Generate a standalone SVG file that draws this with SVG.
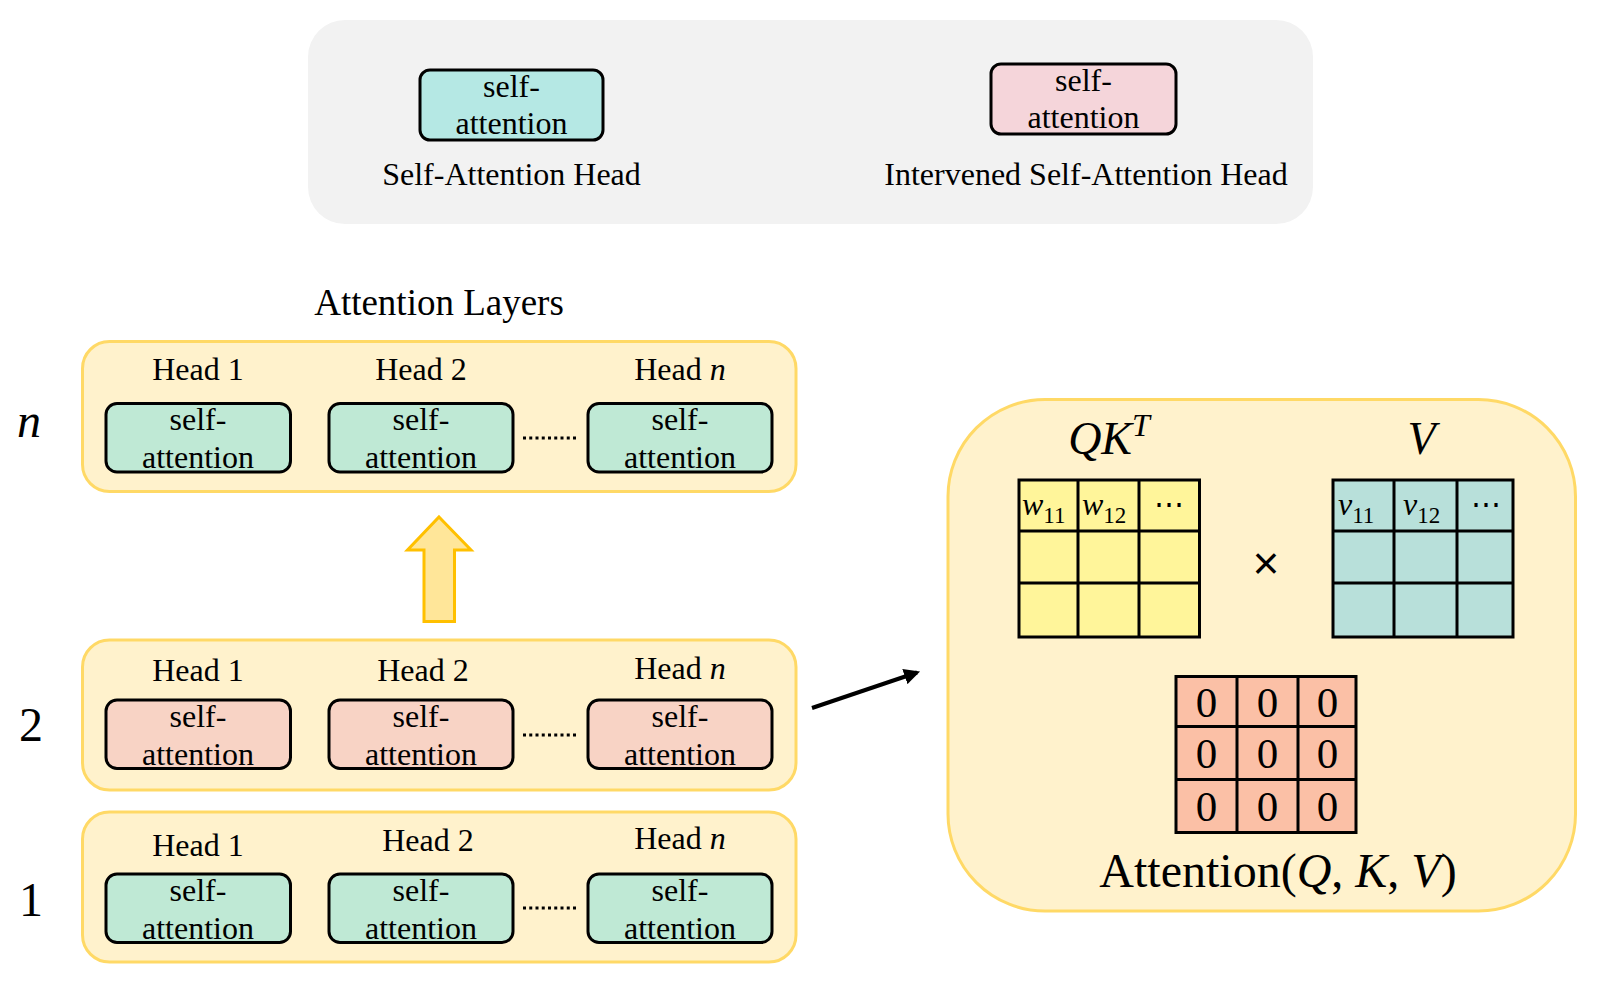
<svg xmlns="http://www.w3.org/2000/svg" width="1598" height="988" viewBox="0 0 1598 988">
<defs>
<style>
.t{font-family:"Liberation Serif","Times New Roman",serif;fill:#000}
.m{font-family:"Liberation Serif","DejaVu Serif",serif;font-style:italic;fill:#000}
.layer{fill:#fff2cc;stroke:#ffd966;stroke-width:3}
.head{stroke:#000;stroke-width:3}
.g{fill:#bfe9d5}
.p{fill:#f8d3c5}
.hl{font-size:32px;text-anchor:middle}
.st{font-size:32px;text-anchor:middle}
.cell{stroke:#000;stroke-width:3}
.dots{stroke:#000;stroke-width:3.2;stroke-dasharray:3 3.25}
</style>
<marker id="ah" viewBox="0 0 10 10" refX="8" refY="5" markerWidth="4" markerHeight="4" orient="auto"><path d="M0,0 L10,5 L0,10 Z" fill="#000"/></marker>
</defs>
<rect width="1598" height="988" fill="#fff"/>

<g id="legend">
<rect x="308" y="20" width="1005" height="204" rx="37" fill="#f2f2f2"/>
<rect x="420" y="70" width="183" height="70" rx="10" fill="#b5e8e4" class="head"/>
<text class="t st" x="511.5" y="97">self-</text>
<text class="t st" x="511.5" y="134">attention</text>
<text class="t" x="511.5" y="185" font-size="32" text-anchor="middle">Self-Attention Head</text>
<rect x="991" y="64" width="185" height="70" rx="10" fill="#f5d5da" class="head"/>
<text class="t st" x="1083.5" y="91">self-</text>
<text class="t st" x="1083.5" y="128">attention</text>
<text class="t" x="1086" y="185" font-size="32" text-anchor="middle">Intervened Self-Attention Head</text>
</g>

<text id="title" class="t" x="439" y="315" font-size="37" text-anchor="middle">Attention Layers</text>

<g id="layer-n">
<rect class="layer" x="82.5" y="341.5" width="713.5" height="150" rx="27"/>
<text class="m" x="17" y="437" font-size="48">n</text>
<text class="t hl" x="198" y="380">Head 1</text>
<text class="t hl" x="421" y="380">Head 2</text>
<text class="t hl" x="680" y="380">Head <tspan font-style="italic">n</tspan></text>
<rect class="head g" x="106" y="403.5" width="184.5" height="68.5" rx="11"/>
<rect class="head g" x="329" y="403.5" width="184" height="68.5" rx="11"/>
<rect class="head g" x="588" y="403.5" width="184" height="68.5" rx="11"/>
<text class="t st" x="198" y="430">self-</text><text class="t st" x="198" y="468">attention</text>
<text class="t st" x="421" y="430">self-</text><text class="t st" x="421" y="468">attention</text>
<text class="t st" x="680" y="430">self-</text><text class="t st" x="680" y="468">attention</text>
<line class="dots" x1="523" y1="438" x2="576" y2="438"/>
</g>

<g id="layer-2">
<rect class="layer" x="82.5" y="640" width="713.5" height="150" rx="27"/>
<text class="t" x="19" y="741" font-size="48">2</text>
<text class="t hl" x="198" y="681">Head 1</text>
<text class="t hl" x="423" y="681">Head 2</text>
<text class="t hl" x="680" y="679">Head <tspan font-style="italic">n</tspan></text>
<rect class="head p" x="106" y="700" width="184.5" height="68.5" rx="11"/>
<rect class="head p" x="329" y="700" width="184" height="68.5" rx="11"/>
<rect class="head p" x="588" y="700" width="184" height="68.5" rx="11"/>
<text class="t st" x="198" y="726.5">self-</text><text class="t st" x="198" y="764.5">attention</text>
<text class="t st" x="421" y="726.5">self-</text><text class="t st" x="421" y="764.5">attention</text>
<text class="t st" x="680" y="726.5">self-</text><text class="t st" x="680" y="764.5">attention</text>
<line class="dots" x1="523" y1="735" x2="576" y2="735"/>
</g>

<g id="layer-1">
<rect class="layer" x="82.5" y="812" width="713.5" height="150" rx="27"/>
<text class="t" x="19" y="916" font-size="48">1</text>
<text class="t hl" x="198" y="856">Head 1</text>
<text class="t hl" x="428" y="851">Head 2</text>
<text class="t hl" x="680" y="849">Head <tspan font-style="italic">n</tspan></text>
<rect class="head g" x="106" y="874" width="184.5" height="68.5" rx="11"/>
<rect class="head g" x="329" y="874" width="184" height="68.5" rx="11"/>
<rect class="head g" x="588" y="874" width="184" height="68.5" rx="11"/>
<text class="t st" x="198" y="900.5">self-</text><text class="t st" x="198" y="938.5">attention</text>
<text class="t st" x="421" y="900.5">self-</text><text class="t st" x="421" y="938.5">attention</text>
<text class="t st" x="680" y="900.5">self-</text><text class="t st" x="680" y="938.5">attention</text>
<line class="dots" x1="523" y1="908" x2="576" y2="908"/>
</g>

<g id="attention-detail">
<rect x="948" y="399.5" width="627.5" height="511.5" rx="97" fill="#fff2cc" stroke="#ffd966" stroke-width="3"/>
<text class="m" x="1109" y="454" font-size="46" text-anchor="middle">QK<tspan font-size="32" dy="-18">T</tspan></text>
<text class="m" x="1421.5" y="454" font-size="46" text-anchor="middle">V</text>
<g id="qk-matrix">
<rect x="1019" y="480" width="180.5" height="157" fill="#fff59a" class="cell"/>
<path d="M1078,480V637M1139,480V637M1019,531H1199.5M1019,583H1199.5" class="cell" fill="none"/>
<text class="m" x="1022" y="515" font-size="32">w<tspan font-style="normal" font-size="23" dy="8">11</tspan></text>
<text class="m" x="1082" y="515" font-size="32">w<tspan font-style="normal" font-size="23" dy="8">12</tspan></text>
<text class="t" x="1169" y="514" font-size="30" text-anchor="middle">⋯</text>
</g>
<text x="1266" y="579" font-size="46" text-anchor="middle" font-family="Liberation Sans, Arial, sans-serif">×</text>
<g id="v-matrix">
<rect x="1333" y="480" width="180" height="157" fill="#b8e0da" class="cell"/>
<path d="M1394,480V637M1457,480V637M1333,531H1513M1333,583H1513" class="cell" fill="none"/>
<text class="m" x="1338" y="515" font-size="32">v<tspan font-style="normal" font-size="23" dy="8">11</tspan></text>
<text class="m" x="1403" y="515" font-size="32">v<tspan font-style="normal" font-size="23" dy="8">12</tspan></text>
<text class="t" x="1486" y="514" font-size="30" text-anchor="middle">⋯</text>
</g>
<g id="zero-matrix">
<rect x="1176" y="676.5" width="180" height="156" fill="#fbc0a6" class="cell"/>
<path d="M1237,676.5V832.5M1298,676.5V832.5M1176,726.5H1356M1176,779.5H1356" class="cell" fill="none"/>
<g class="t" font-size="43" text-anchor="middle">
<text x="1206.5" y="717">0</text><text x="1267.5" y="717">0</text><text x="1327.5" y="717">0</text>
<text x="1206.5" y="768">0</text><text x="1267.5" y="768">0</text><text x="1327.5" y="768">0</text>
<text x="1206.5" y="821">0</text><text x="1267.5" y="821">0</text><text x="1327.5" y="821">0</text>
</g>
</g>
<text class="t" x="1278" y="887" font-size="48" text-anchor="middle">Attention(<tspan font-style="italic">Q</tspan>, <tspan font-style="italic">K</tspan>, <tspan font-style="italic">V</tspan>)</text>
</g>

<g id="connectors">
<path d="M439,517 L471,550 L454.5,550 L454.5,621.5 L424,621.5 L424,550 L407.5,550 Z" fill="#ffe699" stroke="#ffc000" stroke-width="3"/>
<line x1="812" y1="708" x2="917" y2="672.5" stroke="#000" stroke-width="4" marker-end="url(#ah)"/>
</g>
</svg>
